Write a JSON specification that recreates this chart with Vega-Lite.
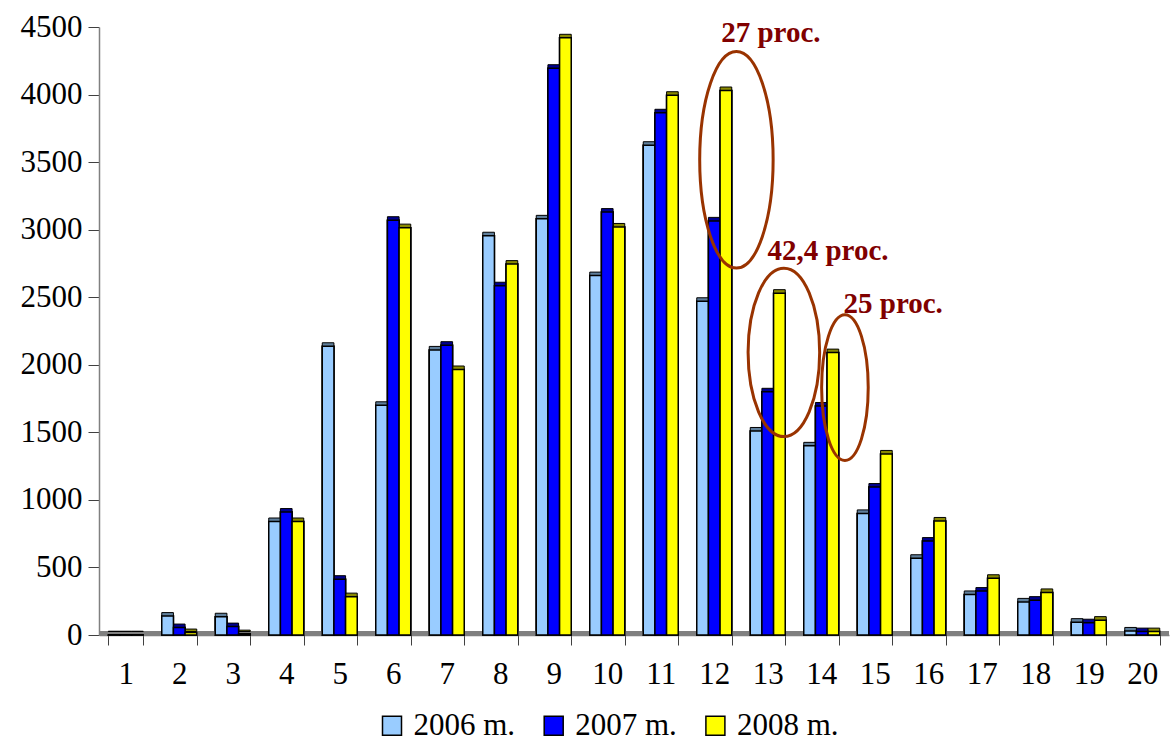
{
  "$schema": "https://vega.github.io/schema/vega-lite/v6.json",
  "width": 1070,
  "height": 608,
  "autosize": {"type": "none"},
  "padding": {"left": 99, "top": 27, "right": 1, "bottom": 107},
  "background": "white",
  "config": {
    "view": {"stroke": null},
    "font": "Liberation Serif",
    "axis": {"labelFont": "Liberation Serif", "labelFontSize": 31, "labelColor": "black", "tickColor": "#404040", "domainColor": "#808080", "domainWidth": 1.5, "grid": false, "title": null},
    "axisX": {"labelAngle": 0, "tickBand": "extent", "tickSize": 10, "labelPadding": 14},
    "axisY": {"tickSize": 11, "labelPadding": 6}
  },
  "datasets": {
    "bars": [
      {"cat": "1", "series": "2006 m.", "value": 2}, {"cat": "1", "series": "2007 m.", "value": 2}, {"cat": "1", "series": "2008 m.", "value": 2},
      {"cat": "2", "series": "2006 m.", "value": 140}, {"cat": "2", "series": "2007 m.", "value": 55}, {"cat": "2", "series": "2008 m.", "value": 18},
      {"cat": "3", "series": "2006 m.", "value": 135}, {"cat": "3", "series": "2007 m.", "value": 62}, {"cat": "3", "series": "2008 m.", "value": 10},
      {"cat": "4", "series": "2006 m.", "value": 840}, {"cat": "4", "series": "2007 m.", "value": 910}, {"cat": "4", "series": "2008 m.", "value": 840},
      {"cat": "5", "series": "2006 m.", "value": 2137}, {"cat": "5", "series": "2007 m.", "value": 413}, {"cat": "5", "series": "2008 m.", "value": 284},
      {"cat": "6", "series": "2006 m.", "value": 1700}, {"cat": "6", "series": "2007 m.", "value": 3070}, {"cat": "6", "series": "2008 m.", "value": 3015},
      {"cat": "7", "series": "2006 m.", "value": 2110}, {"cat": "7", "series": "2007 m.", "value": 2145}, {"cat": "7", "series": "2008 m.", "value": 1965},
      {"cat": "8", "series": "2006 m.", "value": 2955}, {"cat": "8", "series": "2007 m.", "value": 2585}, {"cat": "8", "series": "2008 m.", "value": 2745},
      {"cat": "9", "series": "2006 m.", "value": 3080}, {"cat": "9", "series": "2007 m.", "value": 4195}, {"cat": "9", "series": "2008 m.", "value": 4420},
      {"cat": "10", "series": "2006 m.", "value": 2660}, {"cat": "10", "series": "2007 m.", "value": 3130}, {"cat": "10", "series": "2008 m.", "value": 3020},
      {"cat": "11", "series": "2006 m.", "value": 3625}, {"cat": "11", "series": "2007 m.", "value": 3865}, {"cat": "11", "series": "2008 m.", "value": 3995},
      {"cat": "12", "series": "2006 m.", "value": 2470}, {"cat": "12", "series": "2007 m.", "value": 3065}, {"cat": "12", "series": "2008 m.", "value": 4030},
      {"cat": "13", "series": "2006 m.", "value": 1510}, {"cat": "13", "series": "2007 m.", "value": 1800}, {"cat": "13", "series": "2008 m.", "value": 2530},
      {"cat": "14", "series": "2006 m.", "value": 1400}, {"cat": "14", "series": "2007 m.", "value": 1695}, {"cat": "14", "series": "2008 m.", "value": 2090},
      {"cat": "15", "series": "2006 m.", "value": 900}, {"cat": "15", "series": "2007 m.", "value": 1095}, {"cat": "15", "series": "2008 m.", "value": 1340},
      {"cat": "16", "series": "2006 m.", "value": 568}, {"cat": "16", "series": "2007 m.", "value": 695}, {"cat": "16", "series": "2008 m.", "value": 844},
      {"cat": "17", "series": "2006 m.", "value": 300}, {"cat": "17", "series": "2007 m.", "value": 325}, {"cat": "17", "series": "2008 m.", "value": 420},
      {"cat": "18", "series": "2006 m.", "value": 245}, {"cat": "18", "series": "2007 m.", "value": 258}, {"cat": "18", "series": "2008 m.", "value": 315},
      {"cat": "19", "series": "2006 m.", "value": 95}, {"cat": "19", "series": "2007 m.", "value": 91}, {"cat": "19", "series": "2008 m.", "value": 110},
      {"cat": "20", "series": "2006 m.", "value": 30}, {"cat": "20", "series": "2007 m.", "value": 25}, {"cat": "20", "series": "2008 m.", "value": 25}
    ],
    "notes": [
      {"id": "a", "cat": "12", "series": "2008 m.", "center": 3517, "labely": 4386, "label": "27 proc."},
      {"id": "b", "cat": "13", "series": "2008 m.", "center": 2092, "labely": 2777, "label": "42,4 proc."},
      {"id": "c", "cat": "14", "series": "2008 m.", "center": 1831, "labely": 2382, "label": "25 proc."}
    ]
  },
  "layer": [
    {
      "data": {"name": "bars"},
      "mark": {"type": "bar", "xOffset": 2, "stroke": "black", "strokeWidth": 1.5, "opacity": 1},
      "encoding": {
        "x": {"field": "cat", "type": "nominal", "sort": null,
          "scale": {"domain": ["1","2","3","4","5","6","7","8","9","10","11","12","13","14","15","16","17","18","19","20"], "paddingInner": 0.346, "paddingOuter": 0.173}},
        "xOffset": {"field": "series", "type": "nominal", "scale": {"paddingInner": 0, "paddingOuter": 0}},
        "y": {"field": "value", "type": "quantitative",
          "scale": {"domain": [0, 4500], "nice": false},
          "axis": {"values": [0,500,1000,1500,2000,2500,3000,3500,4000,4500], "format": "d"}},
        "color": {"field": "series", "type": "nominal",
          "scale": {"domain": ["2006 m.", "2007 m.", "2008 m."], "range": ["#99ccff", "#0000ff", "#ffff00"]},
          "legend": {"orient": "none", "legendX": 277.5, "legendY": 683, "direction": "horizontal", "title": null,
            "symbolType": "square", "symbolSize": 361, "symbolStrokeColor": "black", "symbolStrokeWidth": 1.5,
            "labelFont": "Liberation Serif", "labelFontSize": 31, "labelColor": "black", "labelOffset": 6,
            "columnPadding": 22.7, "padding": 0, "symbolOpacity": 1}}
      }
    },
    {
      "data": {"name": "bars"},
      "mark": {"type": "rule", "color": "#808080", "strokeWidth": 4, "yOffset": -2},
      "encoding": {"y": {"datum": 0, "type": "quantitative"}}
    },
    {
      "data": {"name": "bars"},
      "mark": {"type": "bar", "xOffset": 5.5, "yOffset": -3.5, "stroke": "black", "strokeWidth": 1, "opacity": 1},
      "encoding": {
        "x": {"field": "cat", "type": "nominal"},
        "xOffset": {"field": "series", "type": "nominal"},
        "y": {"field": "value", "type": "quantitative"},
        "color": {"field": "series", "type": "nominal", "legend": null,
          "scale": {"domain": ["2006 m.", "2007 m.", "2008 m."], "range": ["#5f7f9c", "#000090", "#8a8a00"]}}
      }
    },
    {
      "data": {"name": "bars"},
      "mark": {"type": "bar", "xOffset": 2, "stroke": "black", "strokeWidth": 1.5, "opacity": 1},
      "encoding": {
        "x": {"field": "cat", "type": "nominal"},
        "xOffset": {"field": "series", "type": "nominal"},
        "y": {"field": "value", "type": "quantitative"},
        "color": {"field": "series", "type": "nominal", "legend": null,
          "scale": {"domain": ["2006 m.", "2007 m.", "2008 m."], "range": ["#99ccff", "#0000ff", "#ffff00"]}}
      }
    },
    {
      "data": {"name": "notes"},
      "transform": [{"filter": "datum.id == 'a'"}],
      "mark": {"type": "point", "shape": "M -0.242,0 A 0.339,1 0 1,1 0.436,0 A 0.339,1 0 1,1 -0.242,0 Z", "size": 46916,
        "filled": false, "stroke": "#993300", "strokeWidth": 3, "opacity": 1},
      "encoding": {
        "x": {"field": "cat", "type": "nominal"},
        "xOffset": {"field": "series", "type": "nominal"},
        "y": {"field": "center", "type": "quantitative"}
      }
    },
    {
      "data": {"name": "notes"},
      "transform": [{"filter": "datum.id == 'b'"}],
      "mark": {"type": "point", "shape": "M -0.372,0 A 0.425,1 0 1,1 0.478,0 A 0.425,1 0 1,1 -0.372,0 Z", "size": 28359,
        "filled": false, "stroke": "#993300", "strokeWidth": 3, "opacity": 1},
      "encoding": {
        "x": {"field": "cat", "type": "nominal"},
        "xOffset": {"field": "series", "type": "nominal"},
        "y": {"field": "center", "type": "quantitative"}
      }
    },
    {
      "data": {"name": "notes"},
      "transform": [{"filter": "datum.id == 'c'"}],
      "mark": {"type": "point", "shape": "M -0.155,0 A 0.32,1 0 1,1 0.485,0 A 0.32,1 0 1,1 -0.155,0 Z", "size": 21199,
        "filled": false, "stroke": "#993300", "strokeWidth": 3, "opacity": 1},
      "encoding": {
        "x": {"field": "cat", "type": "nominal"},
        "xOffset": {"field": "series", "type": "nominal"},
        "y": {"field": "center", "type": "quantitative"}
      }
    },
    {
      "data": {"name": "notes"},
      "transform": [{"filter": "datum.id == 'a'"}],
      "mark": {"type": "text", "align": "left", "baseline": "alphabetic", "dx": -4.7, "font": "Liberation Serif", "fontSize": 29, "fontWeight": "bold", "color": "#800000"},
      "encoding": {
        "x": {"field": "cat", "type": "nominal"},
        "xOffset": {"field": "series", "type": "nominal"},
        "y": {"field": "labely", "type": "quantitative"},
        "text": {"field": "label"}
      }
    },
    {
      "data": {"name": "notes"},
      "transform": [{"filter": "datum.id == 'b'"}],
      "mark": {"type": "text", "align": "left", "baseline": "alphabetic", "dx": -12, "font": "Liberation Serif", "fontSize": 29, "fontWeight": "bold", "color": "#800000"},
      "encoding": {
        "x": {"field": "cat", "type": "nominal"},
        "xOffset": {"field": "series", "type": "nominal"},
        "y": {"field": "labely", "type": "quantitative"},
        "text": {"field": "label"}
      }
    },
    {
      "data": {"name": "notes"},
      "transform": [{"filter": "datum.id == 'c'"}],
      "mark": {"type": "text", "align": "left", "baseline": "alphabetic", "dx": 10.6, "font": "Liberation Serif", "fontSize": 29, "fontWeight": "bold", "color": "#800000"},
      "encoding": {
        "x": {"field": "cat", "type": "nominal"},
        "xOffset": {"field": "series", "type": "nominal"},
        "y": {"field": "labely", "type": "quantitative"},
        "text": {"field": "label"}
      }
    }
  ],
  "resolve": {"scale": {"color": "independent"}}
}
